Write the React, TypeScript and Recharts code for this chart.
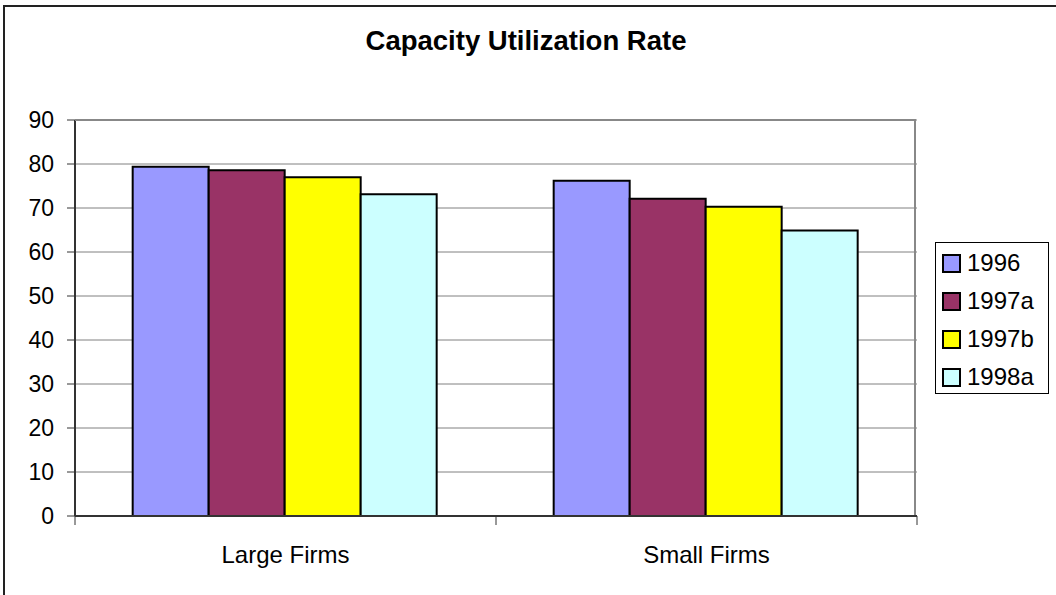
import { BarChart, Bar, XAxis, YAxis, CartesianGrid, Legend } from "recharts";

const categories = ["Large Firms", "Small Firms"];
const seriesNames = ["1996", "1997a", "1997b", "1998a"];
const values1996 = [79.4, 76.2];
const values1997a = [78.6, 72.1];
const values1997b = [77.0, 70.3];
const values1998a = [73.1, 64.9];
const yTicks = [0, 10, 20, 30, 40, 50, 60, 70, 80, 90];
const colors = ["#9999FF", "#993366", "#FFFF00", "#CCFFFF"];

const seriesValues = [values1996, values1997a, values1997b, values1998a];

const data = categories.map((name, i) => {
  const row: Record<string, string | number> = { name };
  seriesNames.forEach((s, k) => {
    row[s] = seriesValues[k][i];
  });
  return row;
});

const W = 1056;
const H = 595;
const PLOT_LEFT = 75;
const PLOT_RIGHT = 917;
const PLOT_TOP = 120;
const PLOT_BOTTOM = 516;
const FONT = '"Liberation Sans", Arial, sans-serif';

const CategoryTick = (props: any) => {
  const { x, y, payload, index } = props;
  const half =
    payload && payload.offset
      ? payload.offset
      : (PLOT_RIGHT - PLOT_LEFT) / categories.length / 2;
  const last = index === categories.length - 1;
  return (
    <g>
      <line x1={x - half} x2={x - half} y1={y - 9} y2={y} stroke="#333" strokeWidth={1} />
      {last && (
        <line x1={x + half} x2={x + half} y1={y - 9} y2={y} stroke="#333" strokeWidth={1} />
      )}
      <text
        x={x}
        y={y + 38}
        textAnchor="middle"
        fontSize={24}
        fontFamily={FONT}
        fill="#000"
      >
        {payload.value}
      </text>
    </g>
  );
};

const LegendBox = ({ payload }: any) => {
  const items =
    payload && payload.length
      ? payload
      : seriesNames.map((s, i) => ({ value: s, color: colors[i] }));
  return (
    <div
      style={{
        width: 114,
        height: 152,
        border: "1px solid #000",
        background: "#fff",
        boxSizing: "border-box",
        paddingTop: 1,
        fontFamily: FONT,
      }}
    >
      {items.map((item: any) => (
        <div
          key={item.value}
          style={{ height: 38, display: "flex", alignItems: "center" }}
        >
          <span
            style={{
              display: "inline-block",
              width: 15,
              height: 15,
              marginLeft: 6,
              border: "2px solid #000",
              background: item.color,
            }}
          />
          <span style={{ marginLeft: 6, fontSize: 24, color: "#000", lineHeight: 1 }}>
            {item.value}
          </span>
        </div>
      ))}
    </div>
  );
};

export default function App() {
  return (
    <div
      style={{
        position: "absolute",
        left: 0,
        top: 0,
        width: W,
        height: H,
        background: "#fff",
        overflow: "hidden",
        fontFamily: FONT,
      }}
    >
      <div
        style={{
          position: "absolute",
          left: 3,
          top: 5,
          width: W + 40,
          height: H + 40,
          border: "2px solid #222",
        }}
      />
      <div
        style={{
          position: "absolute",
          left: -2,
          top: 27,
          width: W,
          textAlign: "center",
          fontSize: 27.5,
          lineHeight: 1,
          fontWeight: "bold",
          color: "#000",
        }}
      >
        Capacity Utilization Rate
      </div>
      <div style={{ position: "absolute", left: 0, top: 0 }}>
        <BarChart
          width={W}
          height={H}
          data={data}
          margin={{ top: PLOT_TOP, right: W - PLOT_RIGHT, left: 0, bottom: 0 }}
          barCategoryGap="13.7%"
          barGap={0}
        >
          <CartesianGrid horizontal vertical={false} stroke="#808080" strokeWidth={1} />
          <XAxis
            dataKey="name"
            height={H - PLOT_BOTTOM}
            axisLine={{ stroke: "#333", strokeWidth: 2 }}
            tickLine={false}
            tickSize={9}
            tickMargin={0}
            tick={<CategoryTick />}
            interval={0}
          />
          <YAxis
            width={PLOT_LEFT}
            domain={[0, 90]}
            ticks={yTicks}
            interval={0}
            axisLine={{ stroke: "#333", strokeWidth: 2 }}
            tickLine={{ stroke: "#333" }}
            tickSize={8}
            tickMargin={13}
            tick={{ fontSize: 23, fill: "#000", fontFamily: FONT }}
          />
          <Legend
            layout="vertical"
            align="center"
            verticalAlign="middle"
            content={<LegendBox />}
            wrapperStyle={{ left: 935, top: 242, width: 114, height: 152 }}
          />
          {seriesNames.map((s, i) => (
            <Bar
              key={s}
              dataKey={s}
              name={s}
              fill={colors[i]}
              stroke="#000"
              strokeWidth={2}
              isAnimationActive={false}
            />
          ))}
        </BarChart>
      </div>
      <div
        style={{
          position: "absolute",
          left: PLOT_LEFT,
          top: PLOT_TOP - 1,
          width: PLOT_RIGHT - PLOT_LEFT - 1,
          height: PLOT_BOTTOM - PLOT_TOP,
          borderTop: "2px solid #888",
          borderRight: "2px solid #888",
          boxSizing: "border-box",
          pointerEvents: "none",
        }}
      />
    </div>
  );
}
